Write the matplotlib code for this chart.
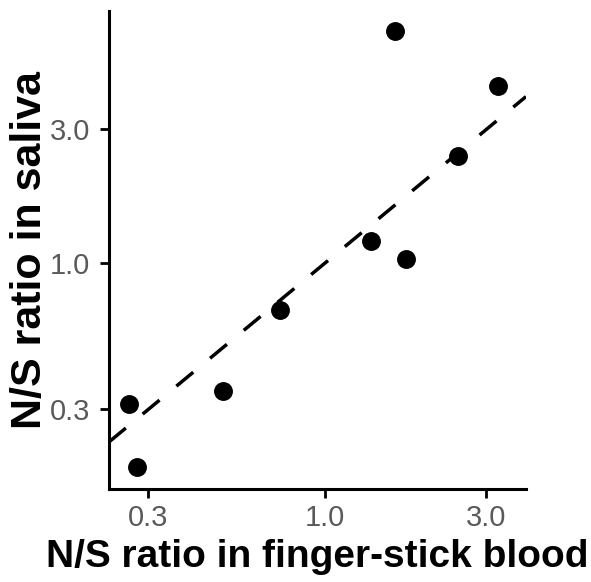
import matplotlib
matplotlib.use("Agg")
import matplotlib.pyplot as plt
from matplotlib.ticker import FixedLocator, NullLocator

plt.rcParams["font.family"] = ["Liberation Sans", "DejaVu Sans"]

# N/S ratios (log-log axes)
blood_ratio = [0.263, 0.278, 0.499, 0.736, 1.37, 1.74, 1.61, 2.47, 3.25]
saliva_ratio = [0.313, 0.187, 0.349, 0.679, 1.20, 1.03, 6.74, 2.41, 4.29]

tick_values = [0.3, 1.0, 3.0]
tick_labels = ["0.3", "1.0", "3.0"]

x_limits = (0.2296, 3.93)
y_limits = (0.156, 7.94)

fig = plt.figure(figsize=(5.91, 5.82), dpi=100)
ax = fig.add_axes([0.1844, 0.1598, 0.7056, 0.8212])

ax.scatter(blood_ratio, saliva_ratio, s=185, color="black", zorder=3,
           linewidths=0)

# identity line
ax.axline((1, 1), (3, 3), color="black", linewidth=2.5,
          linestyle=(0, (6.3, 6.3)), zorder=2)

ax.set_xscale("log")
ax.set_yscale("log")
ax.set_xlim(*x_limits)
ax.set_ylim(*y_limits)

ax.xaxis.set_major_locator(FixedLocator(tick_values))
ax.yaxis.set_major_locator(FixedLocator(tick_values))
ax.xaxis.set_minor_locator(NullLocator())
ax.yaxis.set_minor_locator(NullLocator())
ax.set_xticklabels(tick_labels)
ax.set_yticklabels(tick_labels)

ax.spines["top"].set_visible(False)
ax.spines["right"].set_visible(False)
for side in ("left", "bottom"):
    ax.spines[side].set_linewidth(2.2)

ax.tick_params(axis="both", length=6.5, width=2.0, color="black",
               labelsize=21, labelcolor="#5a5a5a")
ax.tick_params(axis="x", pad=4)
ax.tick_params(axis="y", pad=7)

ax.set_xlabel("N/S ratio in finger-stick blood", fontsize=28,
              fontweight="bold", labelpad=5)
ax.set_ylabel("N/S ratio in saliva", fontsize=31, fontweight="bold",
              labelpad=0)

fig.savefig("out.png", dpi=100)
plt.close(fig)
